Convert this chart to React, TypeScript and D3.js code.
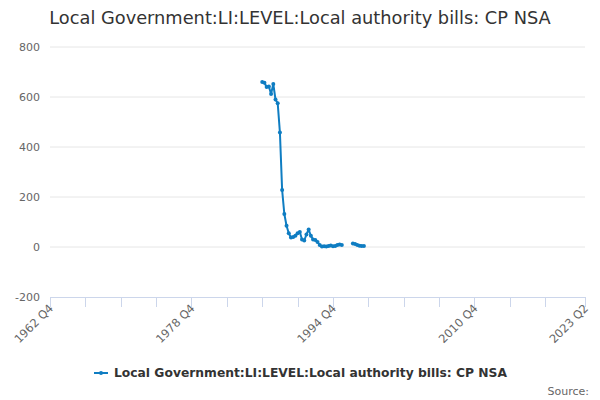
import * as d3 from 'd3'

// quarter index counted from 1962 Q4 (index 0)
const startYear = 1962
const startQuarter = 4
const lastIndex = 242 // 2023 Q2

// first block: 1986 Q4 .. 1995 Q4
const blockAStart = 96
const blockAValues = [
  660, 657, 640, 642, 612, 652, 590, 575, 458, 228,
  132, 85, 55, 38, 40, 45, 55, 60, 30, 26,
  50, 70, 45, 30, 28, 20, 8, 2, 3, 2,
  4, 6, 3, 4, 8, 10, 8
]
// second block: 1997 Q1 .. 1998 Q2
const blockBStart = 137
const blockBValues = [14, 12, 8, 5, 4, 4]

const yTicks = [-200, 0, 200, 400, 600, 800]
const xTickIndexes = [0, 16, 32, 48, 64, 80, 96, 112, 128, 144, 160, 176, 192, 208, 224, 242]
const xLabelIndexes = [0, 64, 128, 192, 242]

const title = 'Local Government:LI:LEVEL:Local authority bills: CP NSA'
const seriesName = 'Local Government:LI:LEVEL:Local authority bills: CP NSA'

const quarterLabel = (i: number) => {
  const q = startQuarter - 1 + i
  return `${startYear + Math.floor(q / 4)} Q${(q % 4) + 1}`
}

interface Point {
  i: number
  v: number | null
}

const points: Point[] = [
  ...blockAValues.map((v, k) => ({ i: blockAStart + k, v })),
  ...d3.range(blockAStart + blockAValues.length, blockBStart).map(i => ({ i, v: null })),
  ...blockBValues.map((v, k) => ({ i: blockBStart + k, v }))
]

const lineColor = '#0f7dc2'
const font = '"DejaVu Sans", Verdana, sans-serif'

const App = () => {
  const width = 600
  const height = 400
  const left = 50
  const right = 585
  const top = 47
  const bottom = 297

  const x = d3.scaleLinear().domain([0, lastIndex]).range([left, right])
  const y = d3.scaleLinear().domain([-200, 800]).range([bottom, top])

  const line = d3.line<Point>()
    .defined(d => d.v !== null)
    .x(d => x(d.i))
    .y(d => y(d.v as number))

  return (
    <svg
      width={width}
      height={height}
      style={{ position: 'absolute', left: 0, top: 0, fontFamily: font }}
    >
      <rect width={width} height={height} fill="#fff" />
      <text x={300} y={24} textAnchor="middle" fontSize={17.8} fill="#333">
        {title}
      </text>

      {/* grid + y labels */}
      {yTicks.map(t => (
        <g key={t}>
          {t !== -200 && (
            <line x1={left} x2={right} y1={y(t)} y2={y(t)} stroke="#e6e6e6" strokeWidth={1} />
          )}
          <text x={40} y={y(t)} dy="0.35em" textAnchor="end" fontSize={11} fill="#666">
            {t}
          </text>
        </g>
      ))}

      {/* x axis */}
      <line x1={left} x2={right} y1={bottom + 0.5} y2={bottom + 0.5} stroke="#ccd6eb" />
      {xTickIndexes.map(i => (
        <line
          key={i}
          x1={Math.round(x(i)) + 0.5}
          x2={Math.round(x(i)) + 0.5}
          y1={bottom}
          y2={bottom + 10}
          stroke="#ccd6eb"
        />
      ))}
      {xLabelIndexes.map(i => (
        <text
          key={i}
          transform={`translate(${x(i) + 4},${bottom + 12}) rotate(-45)`}
          textAnchor="end"
          fontSize={11.5}
          fill="#666"
        >
          {quarterLabel(i)}
        </text>
      ))}

      {/* series */}
      <path d={line(points) || ''} fill="none" stroke={lineColor} strokeWidth={2} strokeLinejoin="round" />
      {points.filter(p => p.v !== null).map(p => (
        <circle key={p.i} cx={x(p.i)} cy={y(p.v as number)} r={2} fill={lineColor} />
      ))}

      {/* legend */}
      <g transform="translate(94,373)">
        <line x1={0} x2={14} y1={0} y2={0} stroke={lineColor} strokeWidth={2} />
        <circle cx={7} cy={0} r={2} fill={lineColor} />
        <text x={20} y={0} dy="0.35em" fontSize={12.3} fontWeight="bold" fill="#333">
          {seriesName}
        </text>
      </g>

      <text x={589} y={391} dy="0.35em" textAnchor="end" fontSize={11} fill="#666">
        Source:
      </text>
    </svg>
  )
}

export default App
